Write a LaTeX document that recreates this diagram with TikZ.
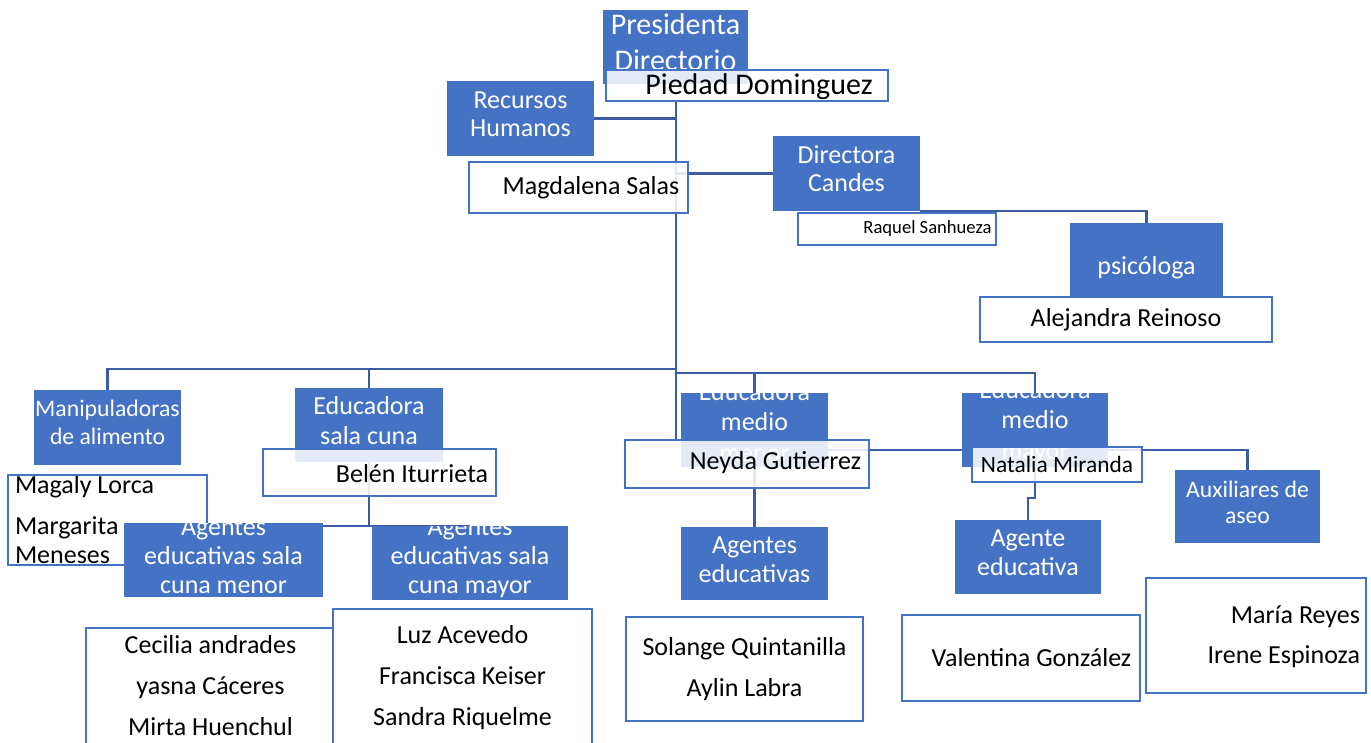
\documentclass[tikz,border=0pt]{standalone}
\usepackage{fontspec}
\setmainfont{Carlito}
\usetikzlibrary{backgrounds}
\definecolor{bfill}{HTML}{4472C4}
\definecolor{bdr}{HTML}{4472C4}
\definecolor{lcol}{HTML}{3B5CA3}
\tikzset{
  bb/.style={fill=bfill, draw=none, inner sep=0pt, outer sep=0pt, anchor=north west},
  wb/.style={fill=white, fill opacity=0.86, draw=bdr, draw opacity=1, line width=2.4pt, inner sep=0pt, outer sep=0pt, anchor=north west},
  sz/.style 2 args={minimum width=#1, minimum height=#2},
  wt/.style={anchor=center, minimum width=0pt, minimum height=0pt, text=white, text opacity=1, align=center, inner sep=0pt, font=\fontsize{26}{29}\selectfont},
  kt/.style={anchor=center, minimum width=0pt, minimum height=0pt, text=black, text opacity=1, align=center, inner sep=0pt, font=\fontsize{26}{41}\selectfont},
  con/.style={draw=lcol, line width=2.9pt},
}
\begin{document}
\begin{tikzpicture}[x=1pt,y=-1pt]
\path[use as bounding box] (0,0) rectangle (1371,742);

% top
\node[bb, sz={145}{74}, path picture={\node[wt, font=\fontsize{30}{36}\selectfont, yshift=5pt] (pres-t) at (path picture bounding box.center) {Presidenta\\Directorio};}] (pres) at (603,10) {};
\node[wb, sz={282}{31}, path picture={\node[kt, font=\fontsize{30}{36}\selectfont, xshift=12pt, yshift=-1.5pt] (piedad-t) at (path picture bounding box.center) {Piedad Dominguez};}] (piedad) at (606,70) {};
\node[bb, sz={147}{75}, path picture={\node[wt, font=\fontsize{26}{28}\selectfont, yshift=4.5pt] (rh-t) at (path picture bounding box.center) {Recursos\\Humanos};}] (rh) at (447,81) {};
\node[wb, sz={219}{51}, path picture={\node[kt, xshift=12.5pt] (magd-t) at (path picture bounding box.center) {Magdalena Salas};}] (magd) at (469,162) {};
\node[bb, sz={147}{75}, path picture={\node[wt, font=\fontsize{26}{28}\selectfont, yshift=4.5pt] (dir-t) at (path picture bounding box.center) {Directora\\Candes};}] (dir) at (773,136) {};
\node[wb, sz={198}{32}, path picture={\node[kt, font=\fontsize{18.6}{22}\selectfont, xshift=30.5pt] (raq-t) at (path picture bounding box.center) {Raquel Sanhueza};}] (raq) at (798,213) {};
\node[bb, sz={153}{73}, path picture={\node[wt, yshift=-8.5pt] (psi-t) at (path picture bounding box.center) {psicóloga};}] (psi) at (1070,223) {};
\node[wb, sz={292}{45}, path picture={\node[kt] (ale-t) at (path picture bounding box.center) {Alejandra Reinoso};}] (ale) at (980,297) {};

% middle row
\node[bb, sz={147}{75}, path picture={\node[wt, font=\fontsize{23.7}{28}\selectfont, yshift=5.5pt] (man-t) at (path picture bounding box.center) {Manipuladoras\\de alimento};}] (man) at (34,390) {};
\node[bb, sz={148}{74}, path picture={\node[wt, font=\fontsize{26}{29.5}\selectfont, yshift=4.5pt] (esc-t) at (path picture bounding box.center) {Educadora\\sala cuna};}] (esc) at (295,388) {};
\node[wb, sz={233}{47}, path picture={\node[kt, xshift=32.5pt, yshift=-1pt] (belen-t) at (path picture bounding box.center) {Belén Iturrieta};}] (belen) at (263,449) {};
\node[bb, sz={147}{74}, path picture={\node[wt, font=\fontsize{26}{30.5}\selectfont, yshift=8pt] (emn-t) at (path picture bounding box.center) {Educadora\\medio\\menor};}] (emn) at (681,393) {};
\node[wb, sz={244}{48}, path picture={\node[kt, xshift=28.5pt, yshift=1pt] (neyda-t) at (path picture bounding box.center) {Neyda Gutierrez};}] (neyda) at (625,440) {};
\node[bb, sz={146}{74}, path picture={\node[wt, font=\fontsize{26}{30.5}\selectfont, yshift=8pt] (emy-t) at (path picture bounding box.center) {Educadora\\medio\\mayor};}] (emy) at (962,393) {};
\node[wb, sz={170}{35}, path picture={\node[kt, font=\fontsize{23.4}{28}\selectfont] (natalia-t) at (path picture bounding box.center) {Natalia Miranda};}] (natalia) at (972,447) {};
\node[bb, sz={145}{73}, path picture={\node[wt, font=\fontsize{23.7}{26}\selectfont, yshift=4.5pt] (aux-t) at (path picture bounding box.center) {Auxiliares de\\aseo};}] (aux) at (1175,470) {};
\node[bb, sz={147}{73}, path picture={\node[wt, yshift=4pt] (ae-t) at (path picture bounding box.center) {Agentes\\educativas};}] (ae) at (681,527) {};
\node[bb, sz={146}{74}, path picture={\node[wt, yshift=4.5pt] (aged-t) at (path picture bounding box.center) {Agente\\educativa};}] (aged) at (955,520) {};

% left group
\node[wb, sz={199}{90}, path picture={\node[kt, align=left, anchor=west, font=\fontsize{26}{29}\selectfont, xshift=7pt] (magaly-t) at (path picture bounding box.west) {Magaly Lorca\\[12pt]Margarita\\Meneses};}] (magaly) at (8,475) {};
\node[bb, sz={199}{74}, path picture={\node[wt, yshift=4pt] (agm-t) at (path picture bounding box.center) {Agentes\\educativas sala\\cuna menor};}] (agm) at (124,523) {};
\node[bb, sz={196}{74}, path picture={\node[wt, yshift=4.5pt] (agM-t) at (path picture bounding box.center) {Agentes\\educativas sala\\cuna mayor};}] (agM) at (372,526) {};

% bottom name boxes
\node[wb, sz={247}{140}, path picture={\node[kt, xshift=1pt, yshift=12pt] (cec-t) at (path picture bounding box.center) {Cecilia andrades\\yasna Cáceres\\Mirta Huenchul};}] (cec) at (86,628) {};
\node[wb, sz={259}{160}, path picture={\node[kt, yshift=11pt] (luz-t) at (path picture bounding box.center) {Luz Acevedo\\Francisca Keiser\\Sandra Riquelme};}] (luz) at (333,609) {};
\node[wb, sz={237}{104}, path picture={\node[kt] (sol-t) at (path picture bounding box.center) {Solange Quintanilla\\Aylin Labra};}] (sol) at (626,617) {};
\node[wb, sz={238}{86}, path picture={\node[kt, xshift=10.5pt] (val-t) at (path picture bounding box.center) {Valentina González};}] (val) at (902,615) {};
\node[wb, sz={220}{115}, path picture={\node[kt, align=right, anchor=east, font=\fontsize{26}{40}\selectfont, xshift=-6pt, yshift=-1pt] (maria-t) at (path picture bounding box.east) {María Reyes\\Irene Espinoza};}] (maria) at (1146,578) {};

% connector helper points
\coordinate (trunk) at (676,371);
\coordinate (busL) at (676,369);
\coordinate (busR) at (676,373);
\coordinate (bsplit) at (369,526);
\coordinate (hl) at (869,450);
\coordinate (nj) at (1035,498);

\begin{pgfonlayer}{background}
\draw[con] (piedad.south -| trunk) -- (neyda.north -| trunk);
\draw[con] (rh.east) -- (rh.east -| trunk);
\draw[con] (dir.west) -- (dir.west -| trunk);
\draw[con] (dir.south east) -- (dir.south east -| psi.north) -- (psi.north);
\draw[con] (man.north) -- (man.north |- busL) -- (busL);
\draw[con] (esc.north) -- (esc.north |- busL);
\draw[con] (busR) -- (emy.north |- busR) -- (emy.north);
\draw[con] (emn.north) -- (emn.north |- busR);
\draw[con] (esc.south) -- (bsplit);
\draw[con] (agm.north) -- (agm.north |- bsplit) -- (agM.north |- bsplit) -- (agM.north);
\draw[con] (emn.south) -- (ae.north);
\draw[con] (emn.east |- hl) -- (emy.west |- hl);
\draw[con] (emy.east |- hl) -- (aux.north |- hl) -- (aux.north);
\draw[con] (emy.south) -- (nj) -- (nj -| aged.north) -- (aged.north);
\end{pgfonlayer}
\end{tikzpicture}
\end{document}
